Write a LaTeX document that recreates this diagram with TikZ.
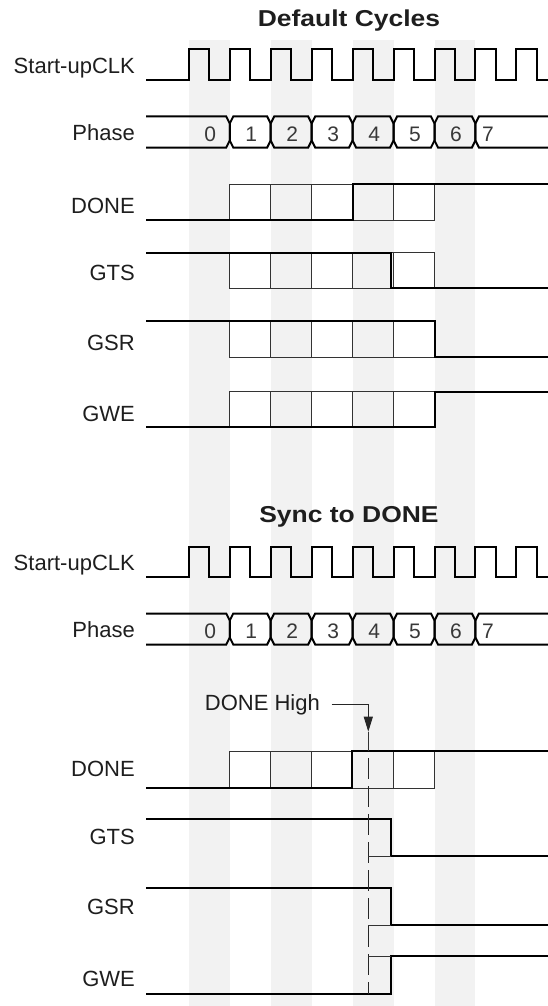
\documentclass[tikz,border=0pt]{standalone}
\usepackage{fontspec}
\setmainfont{Liberation Sans}
\usepackage{graphicx}
\usetikzlibrary{arrows.meta, positioning}
\definecolor{stripegray}{HTML}{F2F2F2}
\definecolor{labeldark}{HTML}{1E1E1E}

\begin{document}
\begin{tikzpicture}[
  x=1pt, y=-1pt,
  font=\fontsize{22}{26}\selectfont,
  >={Triangle[length=15pt, width=9pt]},
  lbl/.style={anchor=base east, inner sep=0pt, text=labeldark},
  heading/.style={inner sep=0pt, text=labeldark,
                  font=\fontsize{23}{27}\selectfont\bfseries},
  digit/.style={inner sep=0pt, text=black!78,
                font=\fontsize{21}{25}\selectfont},
  stripe/.style={fill=stripegray, draw=none},
  wave/.style={line width=2pt, line join=miter, line cap=rect},
  box/.style={line width=1pt, black!80},
  guide/.style={line width=1pt, black!85, dash pattern=on 21pt off 7pt,
                dash phase=21pt},
  pointer/.style={->, line width=1pt, black!85}
]
\useasboundingbox (0,0) rectangle (547,1006);

% Grey band behind every second cycle
\foreach \j in {0,...,3}
  \fill[stripe] ({188.8+81.9*\j},40) rectangle ({229.75+81.9*\j},1006);

% Headings
\node[heading] (defhead) at (349,20.5) {\scalebox{1.15}[1]{Default Cycles}};
\node[heading] (synchead) at (349,517) {\scalebox{1.15}[1]{Sync to DONE}};

% Clock and phase rows (same in both halves)
\foreach \oy/\sec in {0/a, 497/b} {
  \pgfmathsetmacro\clo{80+\oy}
  \pgfmathsetmacro\ptop{116.5+\oy}
  \pgfmathsetmacro\pbot{147.5+\oy}
  \node[lbl] (clk\sec) at (135,{73.3+\oy}) {Start-upCLK};
  \node[lbl] (phase\sec) at (135,{140+\oy}) {Phase};
  \draw[wave] (147,\clo)
    \foreach \k in {0,...,8} {
      -- ({188.8+40.95*\k},\clo) -- ++(0,-30.5) -- ++(20.5,0) -- ++(0,30.5)
    } -- (547,\clo);
  % phase cells
  \draw[wave] (147,\ptop) -- (226.25,\ptop) -- (229.75,{\ptop+7})
    -- (229.75,{\pbot-7}) -- (226.25,\pbot) -- (147,\pbot);
  \foreach \k in {1,...,6} {
    \pgfmathsetmacro\xa{188.8+40.95*\k}
    \pgfmathsetmacro\xb{\xa+40.95}
    \draw[wave] (\xa,{\ptop+7}) -- ({\xa+3.5},\ptop) -- ({\xb-3.5},\ptop)
      -- (\xb,{\ptop+7}) -- (\xb,{\pbot-7}) -- ({\xb-3.5},\pbot)
      -- ({\xa+3.5},\pbot) -- (\xa,{\pbot-7}) -- cycle;
  }
  \draw[wave] (547,\ptop) -- (478.95,\ptop) -- (475.45,{\ptop+7})
    -- (475.45,{\pbot-7}) -- (478.95,\pbot) -- (547,\pbot);
  \foreach \k in {0,...,6}
    \node[digit] (ph\sec\k) at ({210.3+40.95*\k},{134.5+\oy}) {\k};
  \node[digit] (ph\sec7) at (488,{134.5+\oy}) {7};
}

% Default cycles: labels
\node[lbl] (donea) at (135,213) {DONE};
\node[lbl] (gtsa) at (135,280) {GTS};
\node[lbl] (gsra) at (135,350) {GSR};
\node[lbl] (gwea) at (135,421.7) {GWE};

% Default cycles: cycle boxes
\foreach \yt/\yb in {184/220, 252.7/288.3, 321/357.3, 391.7/427.3}
  \foreach \k in {1,...,5}
    \draw[box] ({188.8+40.95*\k},\yt) rectangle ({229.75+40.95*\k},\yb);

% Default cycles: signals
\draw[wave] (147,220) -- (352.6,220) -- (352.6,184) -- (547,184);
\draw[wave] (147,252.7) -- (391.3,252.7) -- (391.3,288.3) -- (547,288.3);
\draw[wave] (147,321) -- (434.5,321) -- (434.5,357.3) -- (547,357.3);
\draw[wave] (147,427.3) -- (434.5,427.3) -- (434.5,391.7) -- (547,391.7);

% Sync to DONE: labels
\node[lbl] (doneb) at (135,776.7) {DONE};
\node[lbl] (gtsb) at (135,844.5) {GTS};
\node[lbl] (gsrb) at (135,914.5) {GSR};
\node[lbl] (gweb) at (135,986.7) {GWE};

% Sync to DONE: cycle boxes on DONE only
\foreach \k in {1,...,5}
  \draw[box] ({188.8+40.95*\k},751) rectangle ({229.75+40.95*\k},788);

% Sync to DONE: signals, released together after DONE goes high
\draw[wave] (147,788) -- (351.5,788) -- (351.5,751) -- (547,751);
\draw[wave] (147,819) -- (391,819) -- (391,856) -- (547,856);
\draw[wave] (147,888) -- (391,888) -- (391,925) -- (547,925);
\draw[wave] (147,994) -- (391,994) -- (391,956) -- (547,956);

% DONE High marker
\node[lbl] (dhigh) at (320,710) {DONE High};
\coordinate (dtip) at (368.3,731.7);
\coordinate (dtop) at (368.3,751);
\coordinate (dbot) at (368.3,994);
\draw[pointer] (dhigh.east) ++(11.5,0) -| (dtip);
\draw[box] (dtip) -- (dtop);
\draw[guide] (dtop) -- (dbot);
\draw[box] (368.3,856) -- (391,856);
\draw[box] (368.3,925) -- (391,925);
\draw[box] (368.3,956) -- (391,956);

\end{tikzpicture}
\end{document}
